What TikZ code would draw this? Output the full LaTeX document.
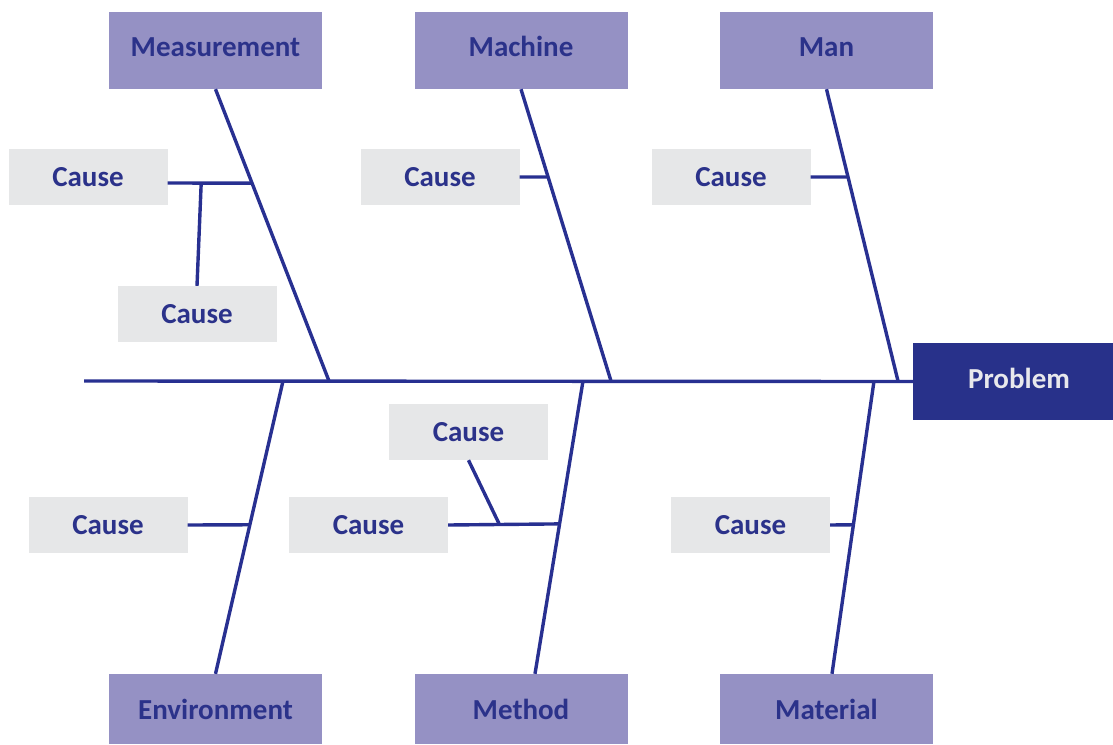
\documentclass[tikz,border=0pt]{standalone}
\usepackage{fontspec}
\setmainfont{Carlito}
\definecolor{catfill}{RGB}{149,145,196}
\definecolor{txtblue}{RGB}{43,50,138}
\definecolor{linblue}{RGB}{40,48,145}
\definecolor{probfill}{RGB}{40,49,138}
\definecolor{causefill}{RGB}{230,231,232}
\definecolor{probtxt}{RGB}{232,232,236}
\tikzset{
  catbox/.style={rectangle, fill=catfill, inner sep=0pt, minimum width=213pt, minimum height=77pt,
    text=txtblue, font=\fontsize{29}{35}\selectfont\bfseries},
  topbox/.style={catbox, text height=19pt, text depth=8pt},
  botbox/.style={catbox, minimum height=70pt},
  causebox/.style={rectangle, fill=causefill, inner sep=0pt, minimum width=159pt, minimum height=56pt,
    text=txtblue, font=\fontsize{29}{35}\selectfont\bfseries},
  probbox/.style={rectangle, fill=probfill, inner sep=0pt, minimum width=200pt, minimum height=77pt},
  probtext/.style={text=probtxt, font=\fontsize{29}{35}\selectfont\bfseries},
  bone/.style={draw=linblue, line width=3.4pt}
}
\begin{document}
\begin{tikzpicture}[x=1pt,y=-1pt]
\useasboundingbox (0,0) rectangle (1113,744);
% category boxes
\node[topbox] (meas) at (215.5,50.5) {Measurement};
\node[topbox] (mach) at (521,50.5) {Machine};
\node[topbox] (man) at (826.5,50.5) {Man};
\node[botbox] (env) at (215.5,709) {Environment};
\node[botbox] (meth) at (521,709) {Method};
\node[botbox] (mat) at (826.5,709) {Material};
\node[probbox, label={[probtext, xshift=6pt, yshift=3pt]center:Problem}] (prob) at (1013,381.5) {};
% cause boxes
\node[causebox] (c1) at (88,177) {Cause};
\node[causebox] (c2) at (197,314) {Cause};
\node[causebox] (c3) at (440,177) {Cause};
\node[causebox] (c4) at (731,177) {Cause};
\node[causebox] (c5) at (108,525) {Cause};
\node[causebox] (c6) at (468.5,432) {Cause};
\node[causebox] (c7) at (368.5,525) {Cause};
\node[causebox] (c8) at (750.5,525) {Cause};
% spine
\coordinate (tail) at (84,381);
\coordinate (s1) at (329,381);
\coordinate (s2) at (611,381);
\coordinate (s3) at (898,381);
\coordinate (s4) at (283,381);
\coordinate (s5) at (583,381);
\coordinate (s6) at (874,381);
\draw[bone] (tail) -- (prob.west);
% bones
\draw[bone] (meas.south) -- coordinate[pos=0.322] (m1) (s1);
\draw[bone] (mach.south) -- coordinate[pos=0.301] (m2) (s2);
\draw[bone] (man.south) -- coordinate[pos=0.301] (m3) (s3);
\draw[bone] (s4) -- coordinate[pos=0.491] (m4) (env.north);
\draw[bone] (s5) -- coordinate[pos=0.488] (m5) ([xshift=14pt]meth.north);
\draw[bone] (s6) -- coordinate[pos=0.491] (m6) ([xshift=5.5pt]mat.north);
% cause lines
\draw[bone] ([yshift=-6pt]c1.east) -- coordinate[pos=0.397] (j1) (m1);
\draw[bone] (c2.north) -- (j1);
\draw[bone] (c3.east) -- (m2);
\draw[bone] (c4.east) -- (m3);
\draw[bone] (c5.east) -- (m4);
\draw[bone] (c7.east) -- coordinate[pos=0.46] (j2) (m5);
\draw[bone] (c6.south) -- (j2);
\draw[bone] (c8.east) -- (m6);
\end{tikzpicture}
\end{document}
